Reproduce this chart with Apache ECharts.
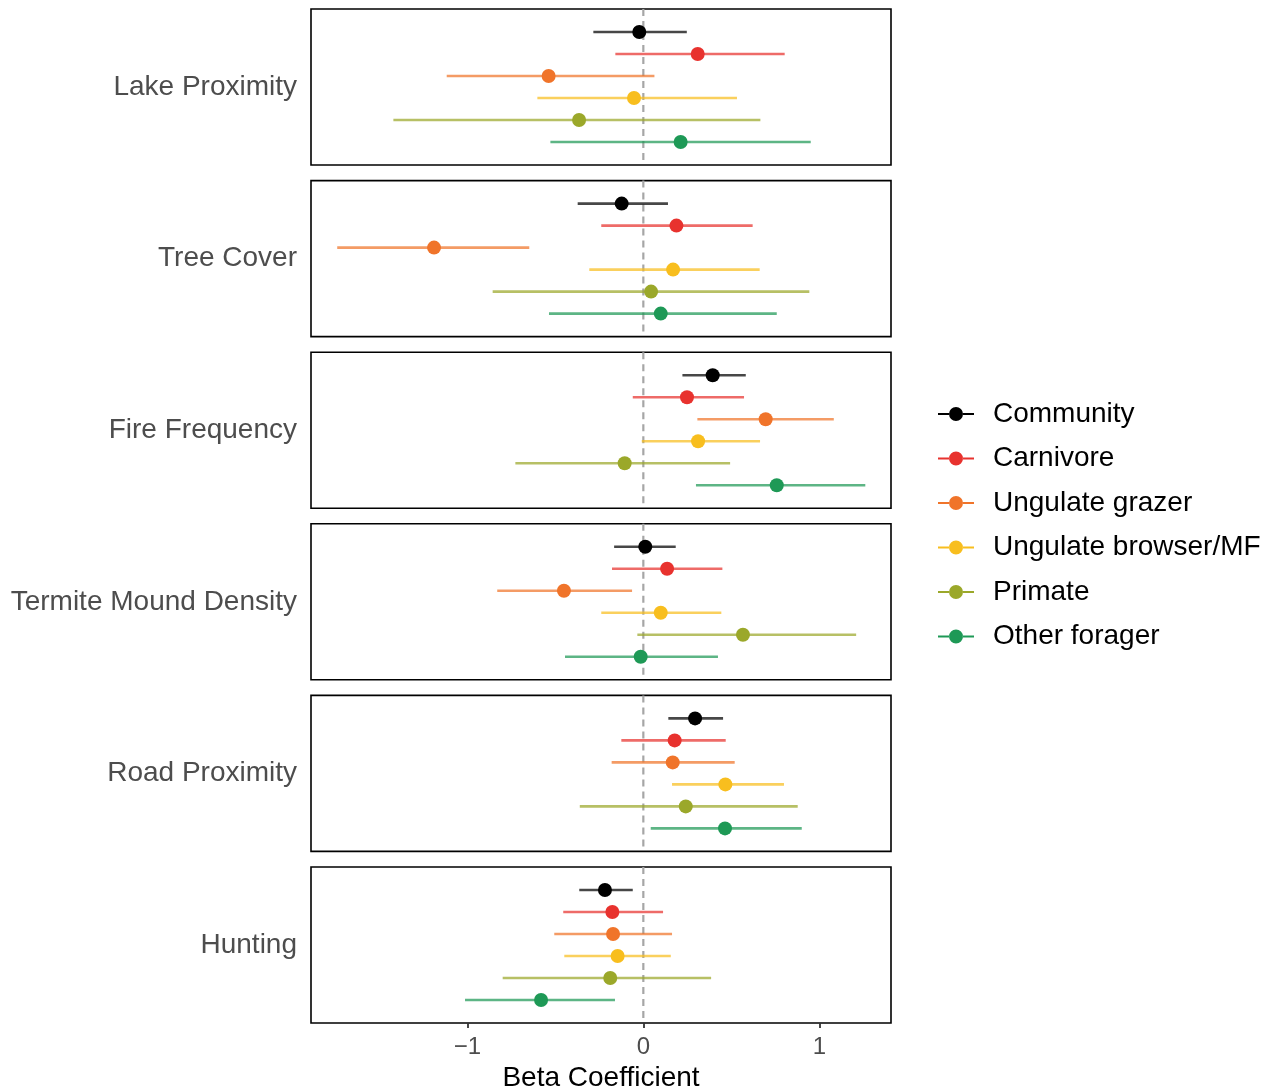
<!DOCTYPE html>
<html>
<head>
<meta charset="utf-8">
<script src="https://cdn.jsdelivr.net/npm/echarts@6/dist/echarts.min.js"></script>
<style>
html,body{margin:0;padding:0;background:#fff;}
#chart{width:1271px;height:1089px;}
</style>
</head>
<body>
<div id="chart"></div>
<script>
// ---- data ----
const panels = ['Lake Proximity', 'Tree Cover', 'Fire Frequency', 'Termite Mound Density', 'Road Proximity', 'Hunting'];
const groups = ['Community', 'Carnivore', 'Ungulate grazer', 'Ungulate browser/MF', 'Primate', 'Other forager'];
const xTicks = [-1, 0, 1];

// estimates / lower / upper, one value per panel (order of `panels`)
const communityEst = [-0.023, -0.123, 0.394, 0.011, 0.294, -0.218];
const communityLo  = [-0.284, -0.373, 0.222, -0.166, 0.142, -0.364];
const communityHi  = [0.247, 0.140, 0.582, 0.184, 0.453, -0.060];

const carnivoreEst = [0.309, 0.188, 0.248, 0.135, 0.178, -0.176];
const carnivoreLo  = [-0.159, -0.239, -0.060, -0.178, -0.125, -0.455];
const carnivoreHi  = [0.803, 0.621, 0.572, 0.449, 0.468, 0.112];

const grazerEst = [-0.538, -1.189, 0.695, -0.451, 0.167, -0.172];
const grazerLo  = [-1.117, -1.739, 0.307, -0.830, -0.180, -0.506];
const grazerHi  = [0.063, -0.648, 1.082, -0.064, 0.519, 0.163];

const browserEst = [-0.053, 0.169, 0.311, 0.099, 0.466, -0.146];
const browserLo  = [-0.602, -0.307, -0.009, -0.239, 0.163, -0.449];
const browserHi  = [0.532, 0.661, 0.663, 0.443, 0.799, 0.156];

const primateEst = [-0.365, 0.044, -0.106, 0.566, 0.241, -0.188];
const primateLo  = [-1.420, -0.856, -0.727, -0.034, -0.361, -0.799];
const primateHi  = [0.665, 0.943, 0.493, 1.209, 0.877, 0.385];

const otherEst = [0.212, 0.099, 0.758, -0.015, 0.464, -0.581];
const otherLo  = [-0.528, -0.536, 0.299, -0.445, 0.042, -1.013];
const otherHi  = [0.951, 0.758, 1.261, 0.424, 0.900, -0.161];

const groupData = [
  [communityEst, communityLo, communityHi],
  [carnivoreEst, carnivoreLo, carnivoreHi],
  [grazerEst, grazerLo, grazerHi],
  [browserEst, browserLo, browserHi],
  [primateEst, primateLo, primateHi],
  [otherEst, otherLo, otherHi]
];

// ---- style ----
const colors = ['#000000', '#E8322E', '#F0742A', '#F8BE1E', '#9BA82A', '#1E9956'];
const FONT = '"Liberation Sans", Arial, Helvetica, sans-serif';
const XMIN = -1.888, XMAX = 1.407;
const PANEL_TOP0 = 9, PANEL_STEP = 171.6, PANEL_H = 156;
const nP = panels.length;

const grids = [], xAxes = [], yAxes = [], series = [];

panels.forEach((pname, p) => {
  const last = p === nP - 1;
  grids.push({
    left: 311, width: 580,
    top: PANEL_TOP0 + p * PANEL_STEP, height: PANEL_H,
    show: true, borderColor: '#000', borderWidth: 1.6,
    backgroundColor: 'transparent',
    containLabel: false, outerBoundsMode: 'none'
  });
  xAxes.push({
    type: 'value', gridIndex: p, min: XMIN, max: XMAX, position: 'bottom',
    axisLine: { show: false, onZero: false },
    splitLine: { show: false },
    axisTick: { show: last, length: 5, customValues: xTicks, lineStyle: { color: '#333', width: 1.8 } },
    axisLabel: {
      show: last, customValues: xTicks, margin: 12,
      fontFamily: FONT, fontSize: 24, color: '#4D4D4D',
      formatter: v => (v < 0 ? '\u2212' + Math.abs(v) : String(v))
    },
    name: last ? 'Beta Coefficient' : '',
    nameLocation: 'middle', nameGap: 41,
    nameTextStyle: { fontFamily: FONT, fontSize: 28, color: '#000' }
  });
  yAxes.push({
    type: 'value', gridIndex: p, inverse: true,
    min: -1.045, max: 6.045,
    axisLine: { show: false }, axisTick: { show: false },
    axisLabel: { show: false }, splitLine: { show: false },
    name: pname, nameLocation: 'middle', nameGap: 14, nameRotate: 0,
    nameTextStyle: { fontFamily: FONT, fontSize: 28, color: '#4D4D4D', align: 'right', verticalAlign: 'middle', padding: [6, 0, 0, 0] }
  });

  // dashed zero reference line
  series.push({
    type: 'custom', name: '__zero' + p, xAxisIndex: p, yAxisIndex: p, z: 1,
    silent: true, data: [[0, 0]],
    renderItem: (params, api) => {
      const cs = params.coordSys;
      const x = api.coord([api.value(0), 0])[0];
      return {
        type: 'line',
        shape: { x1: x, y1: cs.y, x2: x, y2: cs.y + cs.height },
        style: { stroke: '#A6A6A6', lineWidth: 2.2, lineDash: [7, 5] }
      };
    }
  });

  groups.forEach((g, gi) => {
    const [est, lo, hi] = groupData[gi];
    const col = colors[gi];
    series.push({
      type: 'custom', name: g, xAxisIndex: p, yAxisIndex: p, z: 2 + gi,
      itemStyle: { color: col },
      encode: { x: [0, 1, 2], y: 3 },
      data: [[est[p], lo[p], hi[p], gi]],
      renderItem: (params, api) => {
        const row = api.value(3);
        const a = api.coord([api.value(1), row]);
        const b = api.coord([api.value(2), row]);
        const c = api.coord([api.value(0), row]);
        return {
          type: 'group',
          children: [
            { type: 'line', shape: { x1: a[0], y1: a[1], x2: b[0], y2: b[1] },
              style: { stroke: col, lineWidth: 2.6, opacity: 0.72 } },
            { type: 'circle', shape: { cx: c[0], cy: c[1], r: 7 },
              style: { fill: col } }
          ]
        };
      }
    });
  });
});

const legendIcon = 'path://M0,6 L11.2,6 L11.2,8 L0,8 Z M24.8,6 L36,6 L36,8 L24.8,8 Z M11,7 A7,7 0 1 0 25,7 A7,7 0 1 0 11,7 Z';

const option = {
  animation: false,
  backgroundColor: '#fff',
  grid: grids,
  xAxis: xAxes,
  yAxis: yAxes,
  legend: {
    data: groups.map(g => ({ name: g, icon: legendIcon })),
    orient: 'vertical',
    left: 938, top: 399, padding: 0,
    itemWidth: 36, itemHeight: 14, itemGap: 14.5,
    textStyle: { fontFamily: FONT, fontSize: 28, color: '#000', lineHeight: 30, padding: [0, 0, 0, 14] },
    selectedMode: false
  },
  series: series
};

const chart = echarts.init(document.getElementById('chart'), null, { renderer: 'canvas' });
chart.setOption(option);
</script>
</body>
</html>
